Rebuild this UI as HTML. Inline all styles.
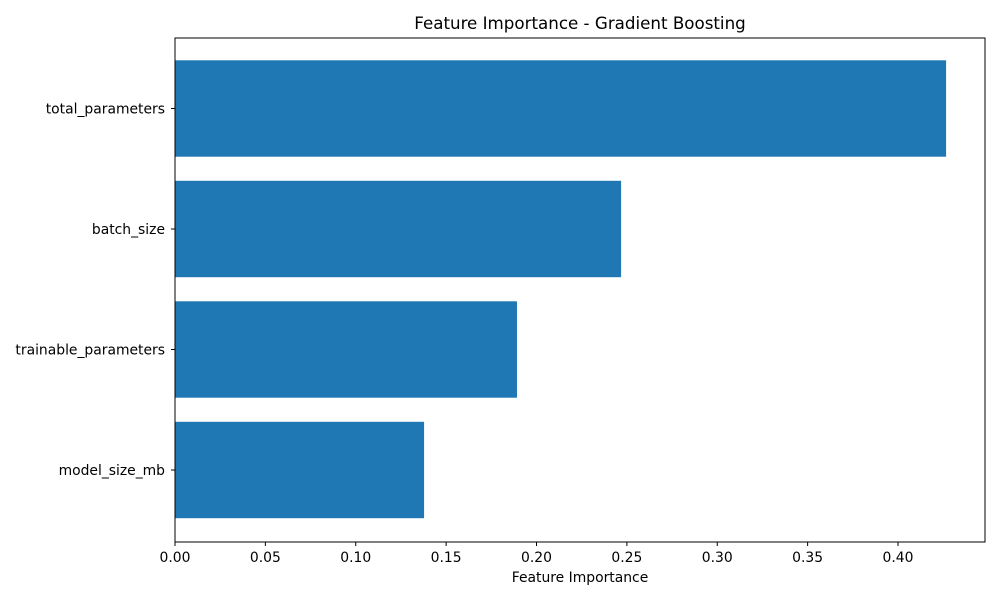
<!DOCTYPE html>
<html><head><meta charset="utf-8"><style>
body{margin:0;background:#fff;font-family:"DejaVu Sans",sans-serif;}
</style></head><body>
<svg width="1000" height="600" xmlns="http://www.w3.org/2000/svg" id="chart" font-family="DejaVu Sans, sans-serif">
<text x="580" y="29" text-anchor="middle" font-size="16.7">Feature Importance - Gradient Boosting</text>
<text x="580" y="582" text-anchor="middle" font-size="13.9">Feature Importance</text>
<g id="bars"></g><g id="xticks"></g><g id="yticks"></g>
<rect x="175" y="38" width="810" height="504" fill="none" stroke="#000" stroke-width="1"/>
</svg>
<script>
const categories=["total_parameters","batch_size","trainable_parameters","model_size_mb"];
const values=[0.4266,0.2468,0.1892,0.1378];
const tickValues=[0,0.05,0.1,0.15,0.2,0.25,0.3,0.35,0.4];
const tickLabels=["0.00","0.05","0.10","0.15","0.20","0.25","0.30","0.35","0.40"];
const NS="http://www.w3.org/2000/svg";
const x0=175,pxPer=1807.5;
function xs(v){return x0+v*pxPer;}
const yTop=108.5,step=120.5,bh=96.4;
function ys(i){return yTop+i*step;}
const bars=document.getElementById('bars'),xt=document.getElementById('xticks'),yt=document.getElementById('yticks');
categories.forEach((c,i)=>{
 const r=document.createElementNS(NS,'rect');
 r.setAttribute('x',xs(0));r.setAttribute('y',ys(i)-bh/2);
 r.setAttribute('width',xs(values[i])-xs(0));r.setAttribute('height',bh);r.setAttribute('fill','#1f77b4');
 
 
 bars.appendChild(r);
 const l=document.createElementNS(NS,'line');
 l.setAttribute('x1',175);l.setAttribute('x2',171);l.setAttribute('y1',ys(i));l.setAttribute('y2',ys(i));l.setAttribute('stroke','#000');
 yt.appendChild(l);
 const t=document.createElementNS(NS,'text');
 t.setAttribute('x',165);t.setAttribute('y',ys(i)+5);t.setAttribute('text-anchor','end');t.setAttribute('font-size','13.9');
 t.textContent=c;
 
 
 yt.appendChild(t);
});
tickValues.forEach((v,i)=>{
 const l=document.createElementNS(NS,'line');
 l.setAttribute('x1',xs(v));l.setAttribute('x2',xs(v));l.setAttribute('y1',542);l.setAttribute('y2',546);l.setAttribute('stroke','#000');
 xt.appendChild(l);
 const t=document.createElementNS(NS,'text');
 t.setAttribute('x',xs(v));t.setAttribute('y',562);t.setAttribute('text-anchor','middle');t.setAttribute('font-size','13.9');
 t.textContent=tickLabels[i];
 
 
 xt.appendChild(t);
});
</script>
</body></html>
